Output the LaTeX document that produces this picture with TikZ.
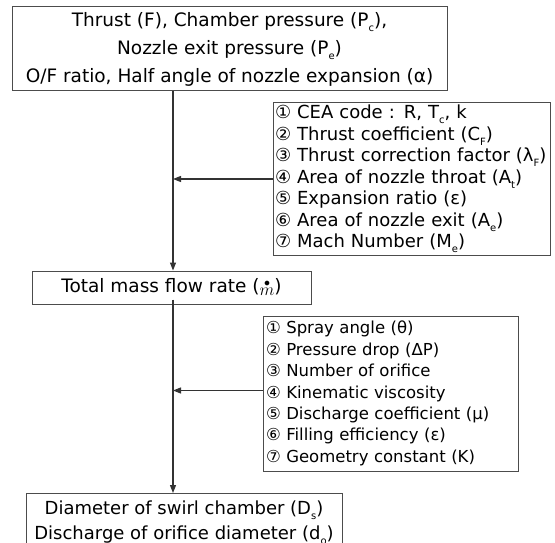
\documentclass[tikz,border=0pt]{standalone}
\usepackage{fontspec}
\setmainfont{DejaVu Sans}
\newfontfamily\circfont{DejaVu Sans}
\usetikzlibrary{arrows.meta,positioning}
\tikzset{
  fc/box/.style={draw=black!70, line width=1pt, align=center, inner sep=2pt},
  fc/list/.style={draw=black!70, line width=1pt, align=left, inner xsep=2pt, inner ysep=2pt},
  fc/line/.style={draw=black!80, line width=1.2pt},
  fc/arrow/.style={fc/line, -{Triangle[length=8pt,width=6pt]}}
}
\newcommand{\sbs}[1]{\raisebox{-0.5ex}{\fontsize{10}{10}\selectfont #1}}
\newcommand{\cn}[1]{{\circfont #1}}
\newcommand{\mdot}{\raisebox{-4pt}{$\stackrel{\bullet}{m}$}}

\begin{document}
\begin{tikzpicture}[x=1pt, y=-1pt]
\useasboundingbox (0,0) rectangle (555,543);
\coordinate (spine) at (173,0);
\node (inputs) [fc/box, minimum width=435pt, minimum height=84pt,
  font=\fontsize{18.5}{28}\selectfont] at (229.5,49) {%
  Thrust (F), Chamber pressure (P\sbs{c}),\\
  Nozzle exit pressure (P\sbs{e})\\
  O/F ratio, Half angle of nozzle expansion (α)};
\node (cea) [fc/list, minimum height=152pt, text width=273pt,
  font=\fontsize{18}{21.5}\selectfont] at (411.5,179) {%
  \cn{①} CEA code : R, T\sbs{c}, k\\
  \cn{②} Thrust coefficient (C\sbs{F})\\
  \cn{③} Thrust correction factor (λ\sbs{F})\\
  \cn{④} Area of nozzle throat (A\sbs{t})\\
  \cn{⑤} Expansion ratio (ε)\\
  \cn{⑥} Area of nozzle exit (A\sbs{e})\\
  \cn{⑦} Mach Number (M\sbs{e})};
\node (mass) [fc/box, minimum width=279pt, minimum height=33pt,
  font=\fontsize{18.5}{22}\selectfont] at (171.5,287.5) {Total mass flow rate (\mdot)};
\node (swirl) [fc/list, minimum height=155pt, text width=249pt, inner xsep=3pt,
  font=\fontsize{16.5}{21.4}\selectfont] at (390.5,393.5) {%
  \cn{①} Spray angle (θ)\\
  \cn{②} Pressure drop (ΔP)\\
  \cn{③} Number of orifice\\
  \cn{④} Kinematic viscosity\\
  \cn{⑤} Discharge coefficient (μ)\\
  \cn{⑥} Filling efficiency (ε)\\
  \cn{⑦} Geometry constant (K)};
\node (dims) [fc/box, anchor=north, minimum width=316pt, minimum height=58pt,
  font=\fontsize{18}{25}\selectfont] at (184,493) {%
  Diameter of swirl chamber (D\sbs{s})\\
  Discharge of orifice diameter (d\sbs{o})};
% main flow
\draw[fc/arrow] (inputs.south -| spine) -- (mass.north -| spine);
\draw[fc/arrow] ([yshift=5pt]mass.south -| spine) -- (dims.north -| spine);
% side inputs
\draw[fc/arrow] (cea.west) -- (cea.west -| spine);
\draw[fc/arrow] ([yshift=3pt]swirl.west) -- ([yshift=3pt]swirl.west -| spine);
\end{tikzpicture}
\end{document}
